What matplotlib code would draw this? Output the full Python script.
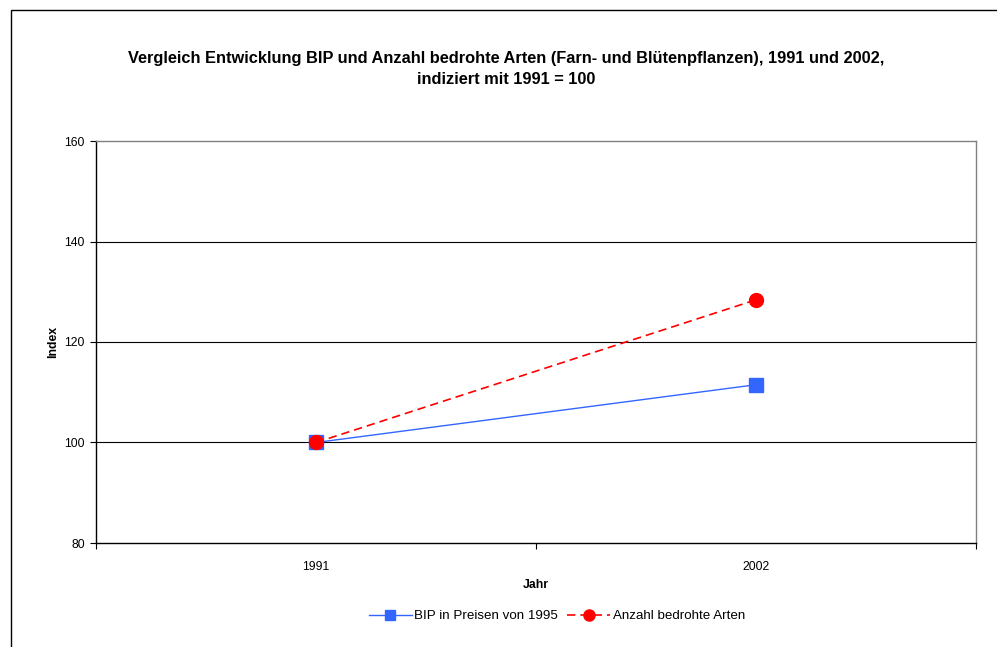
import numpy as np
import matplotlib.pyplot as plt
from matplotlib.patches import Rectangle

plt.rcParams['font.family'] = ['Liberation Sans', 'DejaVu Sans']

jahre = ['1991', '2002']
bip = [100.0, 111.5]
arten = [100.0, 128.4]
y_ticks = [80, 100, 120, 140, 160]

fig = plt.figure(figsize=(9.97, 6.47), dpi=100)

# outer frame of the chart object
fig.patches.append(Rectangle((11/997, -0.1), 1.2, 1 - 10/647 + 0.1,
                             transform=fig.transFigure, fill=False,
                             edgecolor='black', linewidth=1.0))

ax = fig.add_axes([96/997, 1 - 543/647, 880/997, 402/647])

x = np.arange(len(jahre)) + 0.5
ax.plot(x, bip, color='#3366FF', linewidth=1.0, marker='s', markersize=9.5,
        markerfacecolor='#3366FF', markeredgecolor='#3366FF',
        label='BIP in Preisen von 1995', zorder=3)
ax.plot(x, arten, color='#FF0000', linewidth=1.2, linestyle=(0, (5, 3)),
        marker='o', markersize=10, markerfacecolor='#FF0000',
        markeredgecolor='#FF0000', label='Anzahl bedrohte Arten', zorder=4)

ax.set_xlim(0, 2)
ax.set_ylim(80, 160)
ax.set_yticks(y_ticks)
ax.set_yticklabels([str(v) for v in y_ticks], fontsize=8.8)
for v in y_ticks[1:-1]:
    ax.axhline(v, color='black', linewidth=0.8, zorder=1)

ax.set_xticks([0, 1, 2])
ax.set_xticklabels([])
ax.set_xticks(x, minor=True)
ax.set_xticklabels(jahre, minor=True, fontsize=8.8)
ax.tick_params(axis='x', which='minor', length=0, pad=13)
ax.tick_params(axis='x', which='major', length=4, width=0.8, direction='out')
ax.tick_params(axis='y', length=4, width=0.8, direction='out', pad=4)

ax.spines['left'].set_color('black')
ax.spines['bottom'].set_color('black')
ax.spines['top'].set_color('#808080')
ax.spines['right'].set_color('#808080')
for s in ax.spines.values():
    s.set_linewidth(1.0)

ax.set_xlabel('Jahr', fontsize=8.8, fontweight='bold', labelpad=4)
ax.set_ylabel('Index', fontsize=8.8, fontweight='bold', labelpad=4)

fig.text(506/997, 1 - 58/647, 'Vergleich Entwicklung BIP und Anzahl bedrohte Arten (Farn- und Blütenpflanzen), 1991 und 2002,',
         ha='center', va='center', fontsize=11.75, fontweight='bold')
fig.text(506/997, 1 - 80/647, 'indiziert mit 1991 = 100',
         ha='center', va='center', fontsize=11.75, fontweight='bold')

fig.legend(loc='center', bbox_to_anchor=(557/997, 1 - 616/647), ncol=2,
           frameon=False, fontsize=9.6, handlelength=3.2, columnspacing=0.7,
           handletextpad=0.2, markerscale=0.8)

fig.savefig('out.png', dpi=100)
